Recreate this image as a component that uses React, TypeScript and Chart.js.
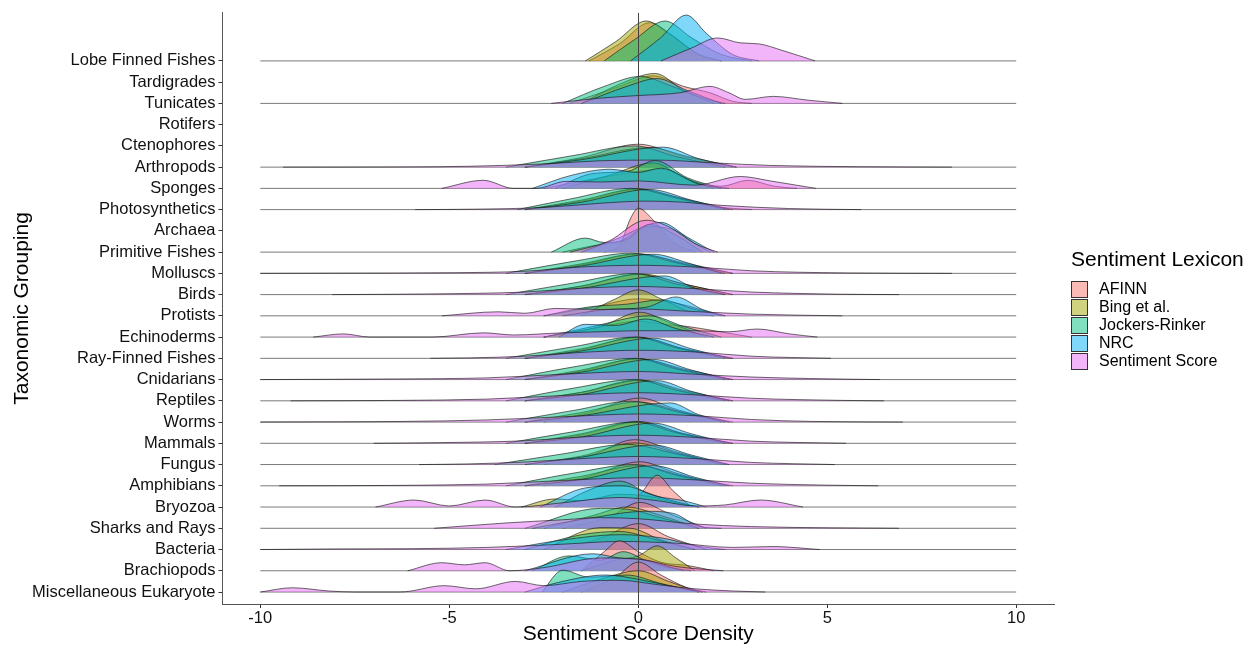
import { useEffect, useRef } from "react";
import { Chart, registerables } from "chart.js";

Chart.register(...registerables);

const categories = [
  "Lobe Finned Fishes", "Tardigrades", "Tunicates", "Rotifers", "Ctenophores",
  "Arthropods", "Sponges", "Photosynthetics", "Archaea", "Primitive Fishes",
  "Molluscs", "Birds", "Protists", "Echinoderms", "Ray-Finned Fishes",
  "Cnidarians", "Reptiles", "Worms", "Mammals", "Fungus", "Amphibians",
  "Bryozoa", "Sharks and Rays", "Bacteria", "Brachiopods", "Miscellaneous Eukaryote",
];

const lexicons = ["AFINN", "Bing et al.", "Jockers-Rinker", "NRC", "Sentiment Score"];
const fillColors = [
  "rgba(248,118,109,0.5)",
  "rgba(163,165,0,0.5)",
  "rgba(0,191,125,0.5)",
  "rgba(0,176,246,0.5)",
  "rgba(231,107,243,0.5)",
];
const xTicks = [-10, -5, 0, 5, 10];
const baselineSpan = [-10, 10];

// density heights (in row units) as flat [x, h, x, h, ...]
const afinn: Record<string, number[]> = {
  "Lobe Finned Fishes": [-1.3, 0, -0.5, 0.8, 0.3, 1.8, 0.9, 1.2, 1.6, 0.3, 2.2, 0],
  "Tunicates": [-1.8, 0, -0.5, 0.8, 0.4, 1.3, 1.2, 0.8, 1.9, 0.5, 2.5, 0.1, 3, 0],
  "Arthropods": [-3, 0, -1.5, 0.45, 0, 1.08, 1.2, 0.5, 2.5, 0],
  "Sponges": [-2.5, 0, -1, 0.5, 0, 0.8, 0.6, 0.9, 1.5, 0.3, 2.2, 0.1, 2.9, 0.38, 3.6, 0.1, 4.2, 0],
  "Photosynthetics": [-3, 0, -1.5, 0.4, 0, 0.95, 1, 0.6, 2, 0.15, 3, 0],
  "Primitive Fishes": [-0.9, 0, -0.5, 0.3, -0.2, 1.6, 0, 2.07, 0.4, 1.5, 0.9, 0.5, 1.5, 0],
  "Molluscs": [-3, 0, -1.5, 0.4, 0, 0.9, 1.2, 0.5, 2.5, 0],
  "Birds": [-3, 0, -1.5, 0.4, 0, 0.95, 1.2, 0.5, 2.5, 0],
  "Protists": [-2.5, 0, -1.2, 0.4, 0, 0.8, 1, 0.6, 2.2, 0],
  "Echinoderms": [-2.5, 0, -1.2, 0.4, 0, 0.75, 0.7, 0.6, 1.3, 0.5, 2, 0.3, 3, 0],
  "Ray-Finned Fishes": [-3, 0, -1.5, 0.4, 0, 1.0, 1.2, 0.45, 2.5, 0],
  "Cnidarians": [-3, 0, -1.5, 0.4, 0, 0.98, 1.2, 0.5, 2.5, 0],
  "Reptiles": [-3, 0, -1.5, 0.4, 0, 0.98, 1.2, 0.45, 2.5, 0],
  "Worms": [-2.5, 0, -1.3, 0.45, 0.05, 1.13, 1, 0.6, 2.2, 0],
  "Mammals": [-3, 0, -1.5, 0.4, 0, 1.0, 1.2, 0.45, 2.5, 0],
  "Fungus": [-2.5, 0, -1.3, 0.4, -0.1, 1.17, 1, 0.6, 2.2, 0],
  "Amphibians": [-2.5, 0, -1.3, 0.45, 0.05, 1.13, 1, 0.6, 2.2, 0],
  "Bryozoa": [-0.3, 0, 0.1, 0.7, 0.5, 1.5, 0.9, 0.8, 1.4, 0],
  "Sharks and Rays": [-2, 0, -0.8, 0.5, 0.05, 1.22, 0.8, 0.7, 1.8, 0],
  "Bacteria": [-2, 0, -0.9, 0.6, 0, 1.22, 0.8, 0.6, 1.8, 0],
  "Brachiopods": [-1.5, 0, -0.9, 0.9, -0.5, 1.41, 0, 0.9, 0.6, 0.4, 1.3, 0.25, 2.0, 0],
  "Miscellaneous Eukaryote": [-1.5, 0, -0.6, 0.7, 0, 1.41, 0.6, 0.8, 1.3, 0.2, 1.8, 0],
};

const bing: Record<string, number[]> = {
  "Lobe Finned Fishes": [-1.4, 0, -0.6, 0.9, 0.21, 1.88, 0.8, 1.3, 1.6, 0.3, 2.2, 0],
  "Tunicates": [-1.5, 0, -0.5, 0.9, 0.45, 1.41, 1.2, 0.6, 2, 0],
  "Arthropods": [-3, 0, -1.5, 0.4, 0.3, 0.92, 1.3, 0.5, 2.6, 0],
  "Sponges": [-2.0, 0, -0.8, 0.6, 0.4, 1.2, 1.2, 0.5, 2.0, 0],
  "Photosynthetics": [-3, 0, -1.5, 0.45, 0, 0.98, 1.2, 0.5, 2.5, 0],
  "Primitive Fishes": [-2.0, 0, -1.2, 0.3, -0.5, 0.5, 0.3, 1.2, 1.0, 1.0, 1.5, 0.4, 1.9, 0],
  "Molluscs": [-3, 0, -1.5, 0.45, 0, 0.92, 1.2, 0.45, 2.5, 0],
  "Birds": [-3, 0, -1.5, 0.4, 0.1, 0.97, 1.2, 0.5, 2.5, 0],
  "Protists": [-1.5, 0, -0.6, 0.8, 0, 1.22, 0.6, 0.8, 1.5, 0.1, 2, 0],
  "Echinoderms": [-2.5, 0, -1, 0.5, 0.05, 1.17, 0.8, 0.7, 1.8, 0],
  "Ray-Finned Fishes": [-3, 0, -1.5, 0.45, 0, 0.98, 1.2, 0.45, 2.5, 0],
  "Cnidarians": [-3, 0, -1.5, 0.45, 0, 0.98, 1.2, 0.45, 2.5, 0],
  "Reptiles": [-3, 0, -1.5, 0.4, 0.1, 0.97, 1.2, 0.5, 2.5, 0],
  "Worms": [-3, 0, -1.5, 0.45, 0, 0.95, 1.2, 0.45, 2.5, 0],
  "Mammals": [-3, 0, -1.5, 0.45, 0, 1.03, 1.2, 0.45, 2.5, 0],
  "Fungus": [-3, 0, -1.5, 0.4, -0.1, 1.02, 1.1, 0.5, 2.4, 0],
  "Amphibians": [-3, 0, -1.5, 0.45, 0, 0.95, 1.2, 0.45, 2.5, 0],
  "Bryozoa": [-3.1, 0, -2.2, 0.38, -1.5, 0.3, -0.5, 0.6, 0.3, 0.5, 1.0, 0.2, 1.6, 0],
  "Sharks and Rays": [-2.5, 0, -1.2, 0.6, -0.3, 1.0, 0.6, 0.6, 1.6, 0],
  "Bacteria": [-2.5, 0, -1.0, 1.03, -0.2, 1.0, 0.6, 0.45, 1.5, 0],
  "Brachiopods": [-1.5, 0, -0.6, 0.5, 0, 0.7, 0.5, 1.17, 1.0, 0.6, 1.5, 0],
  "Miscellaneous Eukaryote": [-2, 0, -1, 0.6, 0, 1.0, 0.8, 0.5, 1.6, 0],
};

const jockers: Record<string, number[]> = {
  "Lobe Finned Fishes": [-0.9, 0, -0.1, 1.0, 0.71, 1.88, 1.4, 1.1, 2.2, 0.3, 3, 0],
  "Tunicates": [-2.0, 0, -0.9, 0.8, 0.05, 1.27, 0.9, 0.8, 1.8, 0.2, 2.3, 0],
  "Arthropods": [-3.5, 0, -1.7, 0.55, -0.1, 1.0, 1, 0.5, 2.3, 0],
  "Sponges": [-2.2, 0, -1.2, 0.7, -0.3, 0.8, 0.45, 1.31, 1.3, 0.5, 2.2, 0],
  "Photosynthetics": [-3.2, 0, -1.8, 0.5, -0.2, 1.0, 1, 0.55, 2.3, 0],
  "Primitive Fishes": [-2.3, 0, -1.4, 0.66, -0.9, 0.45, -0.3, 0.6, 0.3, 1.3, 1.0, 0.8, 1.7, 0],
  "Molluscs": [-3.5, 0, -1.6, 0.6, -0.2, 0.95, 1, 0.5, 2.3, 0],
  "Birds": [-3.5, 0, -1.7, 0.55, -0.1, 0.99, 1, 0.5, 2.3, 0],
  "Protists": [-2.5, 0, -1.3, 0.42, -0.3, 0.55, 0.6, 0.75, 1.5, 0.3, 2.3, 0],
  "Echinoderms": [-2.5, 0, -1.2, 0.5, 0.3, 1.0, 1.2, 0.5, 2.2, 0],
  "Ray-Finned Fishes": [-3.5, 0, -1.7, 0.55, -0.1, 1.0, 1, 0.5, 2.3, 0],
  "Cnidarians": [-3.5, 0, -1.7, 0.6, -0.1, 1.0, 1, 0.5, 2.3, 0],
  "Reptiles": [-3.5, 0, -1.7, 0.6, -0.1, 1.0, 1, 0.5, 2.3, 0],
  "Worms": [-3.5, 0, -1.7, 0.55, -0.2, 0.98, 1, 0.5, 2.3, 0],
  "Mammals": [-3.5, 0, -1.7, 0.55, -0.1, 1.0, 1, 0.5, 2.3, 0],
  "Fungus": [-3.8, 0, -2, 0.5, -0.3, 0.95, 1, 0.5, 2.3, 0],
  "Amphibians": [-3.5, 0, -1.7, 0.6, -0.1, 1.0, 1, 0.5, 2.3, 0],
  "Bryozoa": [-2.2, 0, -1.3, 0.8, -0.48, 1.22, 0.2, 0.7, 1.0, 0.25, 1.6, 0],
  "Sharks and Rays": [-3, 0, -1.0, 0.94, -0.3, 0.9, 0.6, 0.5, 1.6, 0],
  "Bacteria": [-3, 0, -1.5, 0.7, -0.5, 0.85, 0.5, 0.45, 1.5, 0],
  "Brachiopods": [-2.8, 0, -1.83, 0.7, -1.0, 0.5, -0.4, 0.9, 0.3, 0.4, 1.2, 0],
  "Miscellaneous Eukaryote": [-2.55, 0, -2.0, 1.03, -1.3, 0.7, -0.3, 0.8, 0.6, 0.4, 1.6, 0],
};

const nrc: Record<string, number[]> = {
  "Lobe Finned Fishes": [-0.2, 0, 0.6, 1.1, 1.27, 2.16, 1.8, 1.3, 2.5, 0.3, 3.2, 0],
  "Tunicates": [-1.5, 0, -0.3, 0.8, 0.5, 1.17, 1.3, 0.6, 2.2, 0],
  "Arthropods": [-3, 0, -1.5, 0.35, 0.66, 0.94, 1.6, 0.4, 2.6, 0],
  "Sponges": [-2.8, 0, -1.8, 0.6, -0.74, 0.9, 0, 0.75, 0.6, 0.95, 1.6, 0.2, 2.4, 0],
  "Photosynthetics": [-3, 0, -1.5, 0.35, 0.3, 0.95, 1.4, 0.45, 2.4, 0],
  "Primitive Fishes": [-1.5, 0, -0.6, 0.6, 0.6, 1.4, 1.3, 0.7, 2.0, 0],
  "Molluscs": [-3, 0, -1.5, 0.35, 0.4, 0.9, 1.3, 0.5, 2.2, 0],
  "Birds": [-3, 0, -1.5, 0.3, 0.7, 0.88, 1.5, 0.3, 2.3, 0],
  "Protists": [-2, 0, -0.8, 0.3, 0.2, 0.4, 1.0, 0.89, 1.7, 0.3, 2.3, 0],
  "Echinoderms": [-2.1, 0, -1.4, 0.6, -0.6, 0.55, 0.2, 0.85, 1, 0.4, 2, 0],
  "Ray-Finned Fishes": [-3, 0, -1.5, 0.35, 0.4, 0.95, 1.4, 0.45, 2.4, 0],
  "Cnidarians": [-3, 0, -1.5, 0.35, 0.4, 0.95, 1.4, 0.45, 2.4, 0],
  "Reptiles": [-3, 0, -1.5, 0.3, 0.5, 0.95, 1.4, 0.45, 2.4, 0],
  "Worms": [-3, 0, -1.5, 0.3, 0.85, 0.9, 1.6, 0.35, 2.4, 0],
  "Mammals": [-3, 0, -1.5, 0.3, 0.4, 0.95, 1.4, 0.45, 2.4, 0],
  "Fungus": [-3, 0, -1.5, 0.35, 0.4, 0.92, 1.4, 0.45, 2.4, 0],
  "Amphibians": [-3, 0, -1.5, 0.3, 0.4, 0.95, 1.5, 0.4, 2.4, 0],
  "Bryozoa": [-2.6, 0, -1.4, 0.9, -0.4, 1.0, 0.5, 0.5, 1.2, 0.3, 1.8, 0],
  "Sharks and Rays": [-2.8, 0, -1.2, 0.5, 0.2, 0.8, 0.93, 0.7, 1.6, 0.1, 2.2, 0],
  "Bacteria": [-3.5, 0, -2, 0.45, -0.5, 0.7, 0.6, 0.55, 1.6, 0.15, 2.3, 0],
  "Brachiopods": [-3, 0, -1.2, 0.8, -0.5, 0.6, 0.2, 0.5, 1.0, 0.1, 1.4, 0],
  "Miscellaneous Eukaryote": [-3, 0, -2, 0.5, -0.87, 0.8, 0, 0.6, 0.8, 0.3, 1.7, 0],
};

const sentimentScore: Record<string, number[]> = {
  "Lobe Finned Fishes": [0.6, 0, 1.4, 0.6, 2.1, 1.08, 2.7, 0.85, 3.2, 0.8, 3.8, 0.5, 4.68, 0],
  "Tunicates": [-2.3, 0, -1, 0.25, 0, 0.37, 1.1, 0.5, 1.9, 0.8, 2.4, 0.5, 2.83, 0.19, 3.57, 0.33, 4.5, 0.15, 5.4, 0],
  "Arthropods": [-9.4, 0, -6, 0.01, -4.5, 0.04, -2.5, 0.15, -1, 0.3, 0.5, 0.33, 2, 0.2, 3.5, 0.08, 5.8, 0.02, 8.3, 0],
  "Sponges": [-5.2, 0, -4.1, 0.38, -3.3, 0, -2.7, 0, -1.9, 0.33, -1, 0.3, 0, 0.35, 1.5, 0.15, 2.7, 0.56, 3.5, 0.35, 4.7, 0],
  "Photosynthetics": [-5.9, 0, -4.4, 0.02, -2.5, 0.1, -1, 0.3, 0.2, 0.4, 1.2, 0.35, 2.2, 0.2, 4, 0.05, 5.9, 0],
  "Primitive Fishes": [-1.8, 0, -0.8, 0.5, 0.2, 1.5, 0.8, 1.2, 1.5, 0.4, 2.1, 0],
  "Molluscs": [-10, 0, -8, 0.01, -4.9, 0.03, -3, 0.1, -1.5, 0.3, 0, 0.38, 1.5, 0.3, 3, 0.12, 5.5, 0.02, 8.3, 0],
  "Birds": [-8.1, 0, -5.6, 0.03, -3, 0.12, -1.5, 0.3, 0, 0.38, 1.5, 0.28, 3, 0.12, 5.3, 0.02, 6.9, 0],
  "Protists": [-5.2, 0, -3.7, 0.19, -3, 0.12, -2.2, 0.35, -1, 0.3, 0, 0.32, 1.5, 0.2, 3, 0.08, 5.4, 0],
  "Echinoderms": [-8.6, 0, -7.8, 0.15, -7.1, 0, -5.45, 0, -4.1, 0.2, -3.3, 0.1, -2, 0.2, -1, 0.25, 0, 0.3, 1.5, 0.3, 2.4, 0.25, 3.15, 0.38, 4, 0.15, 4.74, 0],
  "Ray-Finned Fishes": [-5.5, 0, -4.5, 0.02, -3, 0.1, -1.5, 0.28, 0, 0.38, 1.5, 0.3, 3, 0.1, 5.1, 0],
  "Cnidarians": [-10, 0, -8.6, 0.01, -6.4, 0.03, -4, 0.08, -2, 0.25, 0, 0.38, 1.5, 0.25, 3, 0.12, 4.5, 0.05, 6.4, 0],
  "Reptiles": [-9.2, 0, -6.3, 0.02, -4, 0.08, -2, 0.25, 0, 0.38, 1.5, 0.28, 3, 0.12, 5.4, 0.02, 6.5, 0],
  "Worms": [-10, 0, -8, 0.01, -6.2, 0.03, -4, 0.1, -2, 0.25, 0, 0.38, 1.5, 0.3, 3, 0.12, 4.6, 0.03, 7, 0],
  "Mammals": [-7, 0, -5.3, 0.03, -3, 0.12, -1.5, 0.3, 0, 0.38, 1.5, 0.28, 3, 0.1, 5.5, 0],
  "Fungus": [-5.8, 0, -4.5, 0.03, -3, 0.12, -1.5, 0.28, 0, 0.38, 1.5, 0.28, 3, 0.1, 5.2, 0],
  "Amphibians": [-9.5, 0, -6.2, 0.02, -4, 0.08, -2, 0.25, 0, 0.38, 1.5, 0.28, 3, 0.12, 5, 0.03, 6.35, 0],
  "Bryozoa": [-6.95, 0, -5.93, 0.33, -5, 0.05, -4.05, 0.33, -3.25, 0, -2, 0.2, -0.5, 0.45, 0.5, 0.3, 1.5, 0.05, 2.3, 0.1, 3.23, 0.33, 4.36, 0],
  "Sharks and Rays": [-5.4, 0, -3.5, 0.25, -2, 0.4, -1, 0.5, 0, 0.45, 1.5, 0.2, 3, 0.08, 5.2, 0.02, 6.9, 0],
  "Bacteria": [-10, 0, -8, 0.03, -6, 0.04, -4, 0.1, -2, 0.25, -0.5, 0.38, 1, 0.3, 2.5, 0.1, 3.57, 0.14, 4.8, 0],
  "Brachiopods": [-6.1, 0, -5.2, 0.38, -4.6, 0.28, -4.05, 0.38, -3.4, 0, -2.5, 0.15, -1, 0.6, 0, 0.55, 1, 0.2, 2.25, 0],
  "Miscellaneous Eukaryote": [-10, 0, -9.15, 0.2, -8.2, 0.05, -7.5, 0, -6.3, 0, -5.13, 0.3, -4.3, 0.15, -3.25, 0.5, -2.5, 0.3, -1.5, 0.5, -0.5, 0.55, 0.5, 0.35, 1.5, 0.15, 2.5, 0.05, 3.36, 0],
};

const series = [afinn, bing, jockers, nrc, sentimentScore];

const FONT = "'Liberation Sans', Arial, Helvetica, sans-serif";

export default function App() {
  const ref = useRef<HTMLCanvasElement | null>(null);

  useEffect(() => {
    document.body.style.margin = "0";
    const canvas = ref.current;
    if (!canvas) return;
    const n = categories.length;
    const datasets: any[] = [];

    categories.forEach((c, i) => {
      if (!afinn[c]) return;
      const p = n - i;
      datasets.push({
        data: [{ x: baselineSpan[0], y: p }, { x: baselineSpan[1], y: p }],
        borderColor: "#7a7a7a",
        borderWidth: 1,
        pointRadius: 0,
        fill: false,
      });
    });

    categories.forEach((c, i) => {
      const p = n - i;
      series.forEach((s, k) => {
        const arr = s[c];
        if (!arr) return;
        const pts: { x: number; y: number }[] = [];
        for (let j = 0; j < arr.length; j += 2) pts.push({ x: arr[j], y: p + arr[j + 1] });
        datasets.push({
          label: lexicons[k],
          data: pts,
          backgroundColor: fillColors[k],
          borderColor: "rgba(20,20,20,0.9)",
          borderWidth: 0.7,
          pointRadius: 0,
          cubicInterpolationMode: "monotone",
          fill: { value: p },
        });
      });
    });
    datasets.forEach((d, idx) => (d.order = datasets.length - idx));

    const zeroLine = {
      id: "zeroLine",
      afterDatasetsDraw(chart: any) {
        const { ctx, chartArea, scales } = chart;
        const x = Math.round(scales.x.getPixelForValue(0)) + 0.5;
        ctx.save();
        ctx.strokeStyle = "#444";
        ctx.lineWidth = 1;
        ctx.beginPath();
        ctx.moveTo(x, chartArea.top);
        ctx.lineTo(x, chartArea.bottom);
        ctx.stroke();
        ctx.restore();
      },
    };

    const legendBox = {
      id: "legendBox",
      afterDraw(chart: any) {
        const { ctx } = chart;
        ctx.save();
        ctx.fillStyle = "#000";
        ctx.textBaseline = "middle";
        ctx.textAlign = "left";
        ctx.font = `21px ${FONT}`;
        ctx.fillText("Sentiment Lexicon", 1071, 260);
        ctx.font = `16px ${FONT}`;
        lexicons.forEach((lab, k) => {
          const top = 281 + k * 18;
          ctx.fillStyle = "#fff";
          ctx.fillRect(1071, top, 17, 17);
          ctx.fillStyle = fillColors[k];
          ctx.fillRect(1071, top, 17, 17);
          ctx.strokeStyle = "#333";
          ctx.lineWidth = 1;
          ctx.strokeRect(1071.5, top + 0.5, 16, 16);
          ctx.fillStyle = "#000";
          ctx.fillText(lab, 1099, top + 9);
        });
        ctx.restore();
      },
    };

    const chart = new Chart(canvas, {
      type: "line",
      data: { datasets },
      plugins: [zeroLine, legendBox],
      options: {
        animation: false,
        responsive: false,
        devicePixelRatio: 1,
        events: [],
        layout: { padding: { top: 12, right: 193, left: 0, bottom: 0 } },
        plugins: { legend: { display: false }, tooltip: { enabled: false } },
        scales: {
          x: {
            type: "linear",
            min: -11,
            max: 11,
            afterBuildTicks: (s: any) => {
              s.ticks = xTicks.map((v) => ({ value: v }));
            },
            afterFit: (s: any) => {
              s.height = 44;
            },
            ticks: { color: "#111", font: { size: 16.5, family: FONT }, padding: 1, maxRotation: 0 },
            grid: { drawOnChartArea: false, drawTicks: true, tickLength: 4, color: "#333" },
            border: { color: "#555", width: 1 },
            title: {
              display: true,
              text: "Sentiment Score Density",
              color: "#000",
              font: { size: 21, family: FONT },
              padding: { top: 0, bottom: 1 },
            },
          },
          y: {
            type: "linear",
            min: 0.436,
            max: 28.26,
            afterBuildTicks: (s: any) => {
              s.ticks = categories.map((_, i) => ({ value: n - i }));
            },
            afterFit: (s: any) => {
              s.width = 222.5;
            },
            ticks: {
              autoSkip: false,
              color: "#111",
              font: { size: 16.5, family: FONT },
              padding: 3,
              callback: (v: any) => categories[n - Number(v)],
            },
            grid: { drawOnChartArea: false, drawTicks: true, tickLength: 4, color: "#333" },
            border: { color: "#555", width: 1 },
            title: {
              display: true,
              text: "Taxonomic Grouping",
              color: "#000",
              font: { size: 21, family: FONT },
              padding: { top: 10, bottom: 0 },
            },
          },
        },
      },
    });
    return () => chart.destroy();
  }, []);

  return (
    <div style={{ position: "absolute", left: 0, top: 0, width: 1247, height: 648, background: "#fff" }}>
      <canvas ref={ref} width={1247} height={648} />
    </div>
  );
}
